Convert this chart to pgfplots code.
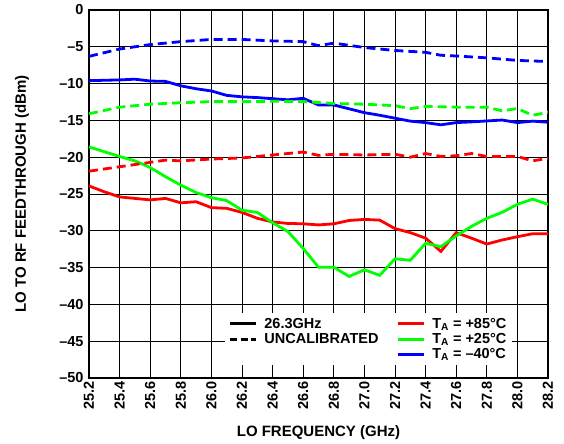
\documentclass[border=0pt]{standalone}
\usepackage{pgfplots}
\pgfplotsset{compat=1.18}
\usepackage{fontspec}
\setmainfont{Liberation Sans}
\begin{document}
\begin{tikzpicture}[x=1bp,y=1bp]
\path[use as bounding box] (-89bp,-66bp) rectangle (475bp,378bp);
\begin{axis}[
  at={(0,0)}, anchor=south west,
  scale only axis,
  width=459bp, height=368bp,
  xmin=25.2, xmax=28.2, ymin=-50, ymax=0,
  xtick={25.2,25.4,...,28.21},
  ytick={0,-5,...,-50},
  yticklabels={0,--5,--10,--15,--20,--25,--30,--35,--40,--45,--50},
  xticklabel style={rotate=90, anchor=east, font=\bfseries\fontsize{14.5bp}{16bp}\selectfont},
  yticklabel style={font=\bfseries\fontsize{14.5bp}{16bp}\selectfont, xshift=-2bp},
  /pgf/number format/assume math mode=true,
  /pgf/number format/fixed, /pgf/number format/fixed zerofill, /pgf/number format/precision=1,
  grid=major,
  major grid style={black, line width=0.9bp},
  axis line style={black, line width=1.8bp},
  tick style={draw=none},
  xlabel={\bfseries LO FREQUENCY (GHz)},
  ylabel={\bfseries LO TO RF FEEDTHROUGH (dBm)},
  xlabel style={at={(axis description cs:0.5,-0.1495)}, anchor=center, font=\bfseries\fontsize{15bp}{17bp}\selectfont},
  ylabel style={at={(axis description cs:-0.146,0.5)}, anchor=center, rotate=0, font=\bfseries\fontsize{15bp}{17bp}\selectfont},
  legend columns=2,
  legend style={draw=none, fill=white, at={(0.295,0.035)}, anchor=south west,
    font=\bfseries\fontsize{14.5bp}{14.5bp}\selectfont, inner sep=4bp,
    nodes={fill=none, inner ysep=0.6bp, inner xsep=2bp},
    /tikz/every odd column/.append style={column sep=5bp},
    /tikz/every even column/.append style={column sep=16bp},
    row sep=2.5bp},
  legend cell align=left,
  legend image code/.code={\draw[#1] (0bp,0bp) -- (26bp,0bp);},
]
% red solid (+85C)
\addplot[red, line width=2.8bp, forget plot] coordinates {
(25.2,-23.9)(25.3,-24.7)(25.4,-25.4)(25.5,-25.6)(25.6,-25.8)(25.7,-25.6)(25.8,-26.2)(25.9,-26.05)
(26.0,-26.85)(26.1,-26.95)(26.2,-27.5)(26.3,-28.3)(26.4,-28.8)(26.5,-29.0)(26.6,-29.05)(26.7,-29.2)
(26.8,-29.05)(26.9,-28.6)(27.0,-28.45)(27.1,-28.55)(27.2,-29.7)(27.3,-30.25)(27.4,-31.0)(27.5,-32.8)
(27.6,-30.25)(27.7,-31.0)(27.8,-31.8)(27.9,-31.25)(28.0,-30.8)(28.1,-30.4)(28.2,-30.4)};
% green solid (+25C)
\addplot[green, line width=2.8bp, forget plot] coordinates {
(25.2,-18.6)(25.3,-19.25)(25.4,-19.9)(25.5,-20.5)(25.6,-21.4)(25.7,-22.65)(25.8,-23.8)(25.9,-24.8)
(26.0,-25.5)(26.1,-25.9)(26.2,-27.2)(26.3,-27.5)(26.4,-28.9)(26.5,-30.1)(26.6,-32.4)(26.7,-34.95)
(26.8,-34.95)(26.9,-36.2)(27.0,-35.3)(27.1,-36.05)(27.2,-33.8)(27.3,-34.0)(27.4,-31.7)(27.5,-32.15)
(27.6,-30.7)(27.7,-29.4)(27.8,-28.3)(27.9,-27.5)(28.0,-26.4)(28.1,-25.7)(28.2,-26.4)};
% blue solid (-40C)
\addplot[blue, line width=2.8bp, forget plot] coordinates {
(25.2,-9.6)(25.4,-9.5)(25.5,-9.4)(25.6,-9.65)(25.7,-9.7)(25.8,-10.3)(25.9,-10.7)(26.0,-11.0)
(26.1,-11.6)(26.2,-11.8)(26.3,-11.9)(26.5,-12.2)(26.6,-12.0)(26.7,-12.9)(26.8,-12.9)(27.0,-13.95)
(27.1,-14.3)(27.2,-14.7)(27.3,-15.1)(27.4,-15.3)(27.5,-15.6)(27.6,-15.3)(27.7,-15.2)(27.9,-14.95)
(28.0,-15.3)(28.1,-15.1)(28.2,-15.25)};
% red dashed
\addplot[red, line width=2.8bp, dash pattern=on 9bp off 5bp, forget plot] coordinates {
(25.2,-21.9)(25.4,-21.3)(25.6,-20.7)(25.7,-20.4)(25.8,-20.5)(26.0,-20.25)(26.2,-20.1)(26.4,-19.7)
(26.6,-19.3)(26.7,-19.75)(26.8,-19.6)(27.0,-19.7)(27.2,-19.6)(27.3,-20.0)(27.4,-19.5)(27.5,-19.9)
(27.6,-19.8)(27.7,-19.5)(27.8,-19.9)(28.0,-19.9)(28.1,-20.5)(28.2,-20.15)};
% green dashed
\addplot[green, line width=2.8bp, dash pattern=on 9bp off 5bp, forget plot] coordinates {
(25.2,-14.1)(25.4,-13.2)(25.6,-12.8)(25.8,-12.6)(26.0,-12.45)(26.2,-12.45)(26.4,-12.4)(26.6,-12.45)
(26.8,-12.7)(27.0,-12.8)(27.2,-13.0)(27.3,-13.4)(27.4,-13.1)(27.6,-13.2)(27.8,-13.2)(27.9,-13.7)
(28.0,-13.4)(28.1,-14.3)(28.2,-13.9)};
% blue dashed
\addplot[blue, line width=2.8bp, dash pattern=on 9bp off 5bp, forget plot] coordinates {
(25.2,-6.3)(25.4,-5.3)(25.6,-4.7)(25.8,-4.3)(26.0,-4.0)(26.2,-4.0)(26.4,-4.2)(26.6,-4.3)
(26.7,-4.85)(26.8,-4.5)(27.0,-5.1)(27.2,-5.5)(27.4,-5.75)(27.5,-6.15)(27.6,-6.25)(27.8,-6.5)
(28.0,-6.85)(28.2,-7.0)};
\addlegendimage{black, line width=2.8bp}
\addlegendentry{26.3GHz}
\addlegendimage{red, line width=2.8bp}
\addlegendentry{T\textsubscript{A} = +85°C}
\addlegendimage{black, line width=2.8bp, dash pattern=on 7bp off 3.5bp}
\addlegendentry{UNCALIBRATED}
\addlegendimage{green, line width=2.8bp}
\addlegendentry{T\textsubscript{A} = +25°C}
\addlegendimage{empty legend}
\addlegendentry{}
\addlegendimage{blue, line width=2.8bp}
\addlegendentry{T\textsubscript{A} = --40°C}
\end{axis}
\end{tikzpicture}
\end{document}
